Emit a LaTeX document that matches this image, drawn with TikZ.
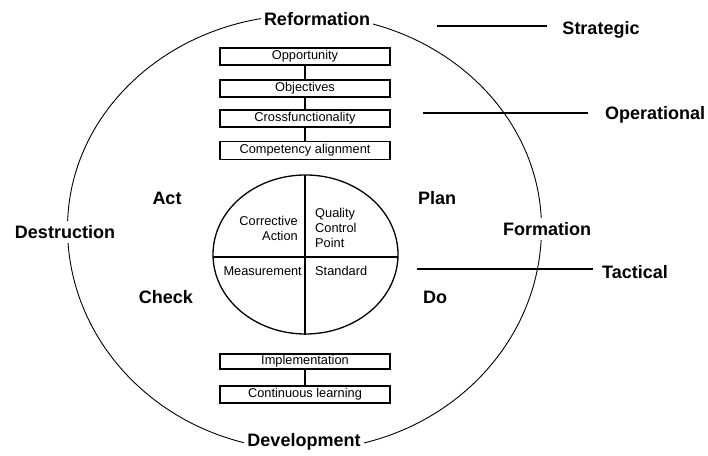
\documentclass[tikz,border=0pt]{standalone}
\usepackage{fontspec}
\setmainfont{Liberation Sans}
\begin{document}
\begin{tikzpicture}[x=1pt,y=1pt,
  big/.style={font=\fontsize{18}{20}\selectfont\bfseries, inner sep=1pt},
  gap/.style={big, fill=white, inner xsep=3pt, inner ysep=4pt},
  box/.style={draw, line width=1.3pt, minimum width=170pt, inner sep=0pt, font=\fontsize{12.8}{14}\selectfont},
  small/.style={font=\fontsize{12.8}{15}\selectfont, inner sep=0pt},
  thinline/.style={line width=0.9pt},
  midline/.style={line width=1.3pt}
]
\useasboundingbox (0,0) rectangle (708,455);
% outer ellipse
\draw[thinline] (541.5,227) arc[start angle=0,end angle=180,x radius=237,y radius=213]
                 arc[start angle=180,end angle=360,x radius=237,y radius=222];
% labels on the ellipse
\node[gap] (reform) at (317,436) {Reformation};
\node[gap] (destr) at (65,223) {Destruction};
\node[gap] (form) at (547,226) {Formation};
\node[gap] (devel) at (304,13) {Development};
% PDCA labels
\node[big] (act) at (167,257) {Act};
\node[big] (check) at (166,158) {Check};
\node[big] (plan) at (437,257) {Plan};
\node[big] (do) at (435,158) {Do};
% level labels and lines
\node[big] (strat) at (601,425) {Strategic};
\node[big] (oper) at (655,340) {Operational};
\node[big] (tact) at (635,183) {Tactical};
\coordinate (s1) at (437,429); \coordinate (s2) at (547,429);
\coordinate (o1) at (423,342); \coordinate (o2) at (588,342);
\coordinate (t1) at (417,186); \coordinate (t2) at (593,186);
\draw[midline] (s1) -- (s2);
\draw[midline] (o1) -- (o2);
\draw[midline] (t1) -- (t2);
% top boxes
\node[box, minimum height=17pt] (opp) at (305,398.5) {Opportunity};
\node[box, minimum height=17pt] (obj) at (305,366.5) {Objectives};
\node[box, minimum height=17pt] (cross) at (305,336.5) {Crossfunctionality};
\node[box, minimum height=18pt] (comp) at (305,304.5) {Competency alignment};
\draw[midline] (opp) -- (obj);
\draw[midline] (obj) -- (cross);
\draw[midline] (cross) -- (comp);
% bottom boxes
\node[box, minimum height=15pt] (impl) at (305,93.5) {Implementation};
\node[box, minimum height=17pt] (cont) at (305,60.5) {Continuous learning};
\draw[midline] (impl) -- (cont);
% inner ellipse
\coordinate (ic) at (305.5,200.5);
\draw[midline] (ic) ellipse[x radius=92.5, y radius=79.5];
\coordinate (hl) at (213,198); \coordinate (hr) at (398,198);
\coordinate (vt) at (305,280); \coordinate (vb) at (305,120);
\draw[midline] (hl) -- (hr);
\draw[midline] (vt) -- (vb);
\node[small, anchor=east, align=right] (corr) at (298,227) {Corrective\\Action};
\node[small, anchor=west, align=left] (qual) at (315,227) {Quality\\Control\\Point};
\node[small, anchor=east] (meas) at (302,184) {Measurement};
\node[small, anchor=west] (stand) at (315,184) {Standard};
\end{tikzpicture}
\end{document}
